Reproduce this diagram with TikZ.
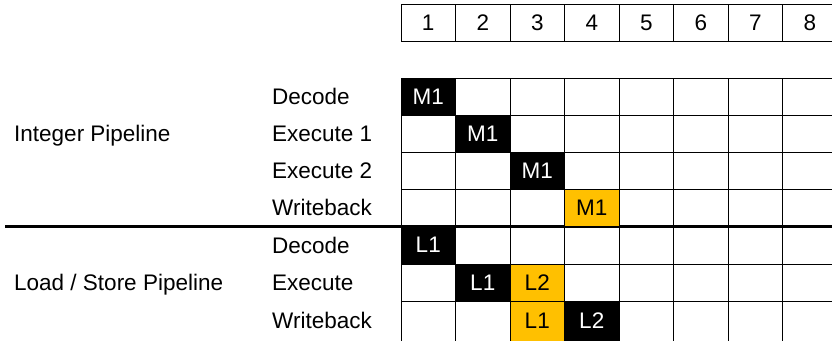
\documentclass[tikz,border=0pt]{standalone}
\usepackage{fontspec}
\setmainfont{Liberation Sans}
\definecolor{stallyellow}{HTML}{FFC000}

\begin{document}
\begin{tikzpicture}[
  x=1pt, y=-1pt,
  every node/.style={font=\fontsize{22.5}{27}\selectfont},
  slot/.style={draw, line width=1pt, minimum width=54.5pt, minimum height=37pt, inner sep=0pt},
  busy/.style={slot, fill=black, text=white},
  stall/.style={slot, fill=stallyellow, text=black},
  stage/.style={anchor=base west, inner sep=0pt},
  pipename/.style={anchor=base west, inner sep=0pt}
]
\useasboundingbox (0,0) rectangle (832,340);

% ---- cycle numbers ----
\foreach \c in {1,...,8}
  \node[slot] (cyc\c) at ({428.25+54.5*(\c-1)}, 22.5) {\c};

% ---- grid ----
\foreach \c in {0,...,8}
  \draw[line width=1pt] ({401+54.5*\c}, 78) -- ({401+54.5*\c}, 342);
\foreach \r in {78,115,152,189,264,301}
  \draw[line width=1pt] (401,\r) -- (840,\r);
\draw[line width=3pt] (5,226) -- (834,226);

% ---- pipeline names ----
\node[pipename] (intpipe) at (14,141.5) {Integer Pipeline};
\node[pipename] (lspipe)  at (14,290.5) {Load / Store Pipeline};

% ---- stages ----
% integer
\node[stage] (idec) at (272,104.5) {Decode};
\node[stage] (iex1) at (272,141.5) {Execute 1};
\node[stage] (iex2) at (272,178.5) {Execute 2};
\node[stage] (iwb)  at (272,215.5) {Writeback};
% load / store
\node[stage] (ldec) at (272,253) {Decode};
\node[stage] (lex)  at (272,290.5) {Execute};
\node[stage] (lwb)  at (272,328) {Writeback};

% ---- instructions in flight ----
% M1 through the integer pipe
\node[busy]  (mdec) at (428.25, 96.5) {M1};
\node[busy]  (mex1) at (482.75,133.5) {M1};
\node[busy]  (mex2) at (537.25,170.5) {M1};
\node[stall] (mwb)  at (591.75,207.5) {M1};
% L1 and L2 through the load / store pipe
\node[busy]  (ladec) at (428.25,245) {L1};
\node[busy]  (laex)  at (482.75,282.5) {L1};
\node[stall] (lbex)  at (537.25,282.5) {L2};
\node[stall, minimum height=40pt] (lawb) at (537.25,321) {L1};
\node[busy,  minimum height=40pt] (lbwb) at (591.75,321) {L2};

\end{tikzpicture}
\end{document}
